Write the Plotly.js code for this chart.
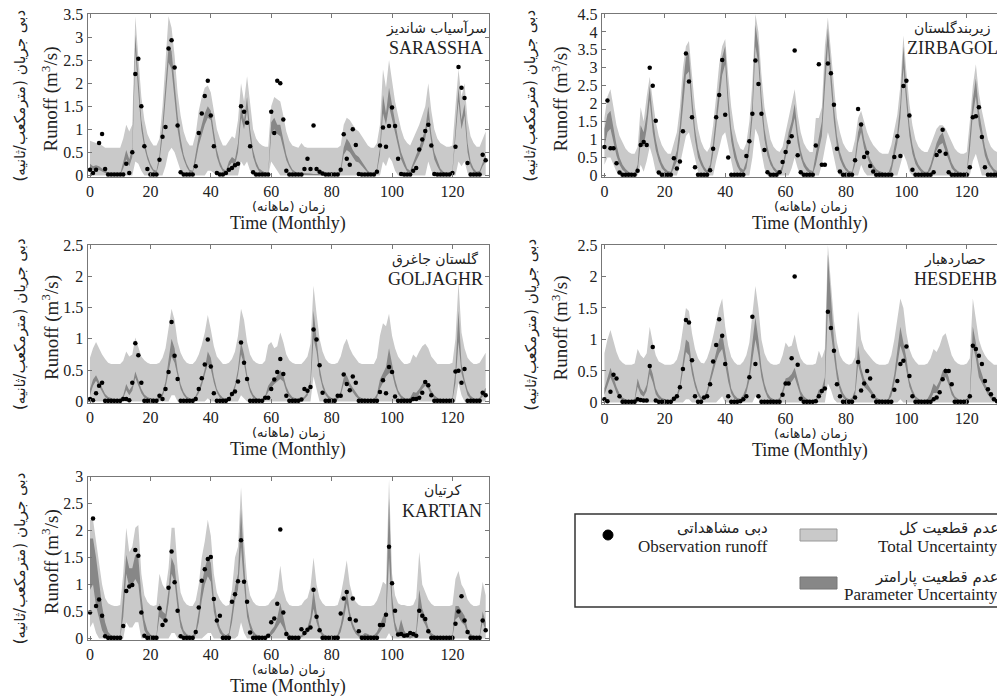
<!DOCTYPE html>
<html><head><meta charset="utf-8">
<script src="https://cdn.plot.ly/plotly-3.0.1.min.js"></script>
<style>html,body{margin:0;padding:0;background:#fff}#chart{width:997px;height:696px}</style>
</head><body><div id="chart"></div>
<script>
const months = [0,1,2,3,4,5,6,7,8,9,10,11,12,13,14,15,16,17,18,19,20,21,22,23,24,25,26,27,28,29,30,31,32,33,34,35,36,37,38,39,40,41,42,43,44,45,46,47,48,49,50,51,52,53,54,55,56,57,58,59,60,61,62,63,64,65,66,67,68,69,70,71,72,73,74,75,76,77,78,79,80,81,82,83,84,85,86,87,88,89,90,91,92,93,94,95,96,97,98,99,100,101,102,103,104,105,106,107,108,109,110,111,112,113,114,115,116,117,118,119,120,121,122,123,124,125,126,127,128,129,130,131];

const xTickVals = [0,20,40,60,80,100,120];
const stationFa = ["سرآسیاب شاندیز","زیربندگلستان","گلستان جاغرق","حصاردهبار","کرتیان"];
const stationEn = ["SARASSHA","ZIRBAGOL","GOLJAGHR","HESDEHB","KARTIAN"];
const yMax = [3.5,4.5,2.5,2.5,3];

// ---- SARASSHA ----
const sarObs = [0.12,0.05,0.12,0.7,0.9,0.14,0.02,0.02,0.02,0.02,
0.02,0.02,0.25,0.05,0.5,2.2,2.53,1.5,0.63,0.14,
0.02,0.02,0.02,0.34,0.84,1.05,2.75,2.93,2.34,1.08,
0.07,0.02,0.02,0.02,0.02,0.2,0.92,1.34,1.72,2.05,
1.3,0.63,0.05,0.02,0.02,0.05,0.12,0.16,0.22,0.25,
1.5,1.38,1.14,0.63,0.07,0.02,0.02,0.02,0.02,0.02,
1.38,0.92,2.05,2.0,1.21,0.1,0.02,0.02,0.02,0.02,
0.02,0.14,0.36,0.14,1.08,0.14,0.08,0.04,0.02,0.02,
0.02,0.02,0.02,0.12,0.89,0.36,0.23,1.0,0.66,0.03,
0.02,0.02,0.02,0.02,0.02,0.08,0.65,1.04,0.62,1.07,
1.47,1.07,0.36,0.03,0.02,0.02,0.02,0.1,0.16,0.56,
0.78,0.96,1.1,0.65,0.03,0.02,0.02,0.02,0.02,0.02,
0.05,0.62,2.35,1.9,1.68,0.27,0.02,0.02,0.02,0.02,0.45,0.33];
const sarTotHi = [0.75,0.72,0.7,0.68,0.65,0.6,0.6,0.6,0.6,0.6,
0.6,0.8,1.1,0.95,1.1,3.45,2.6,1.7,1.2,0.9,
0.75,0.65,0.65,0.8,1.5,2.5,3.45,3.2,2.6,1.8,
1.3,0.95,0.75,0.65,0.65,0.9,1.4,1.7,1.9,1.95,
1.8,1.4,1.0,0.8,0.65,0.65,0.75,0.85,0.8,1.2,
2.0,1.6,2.15,1.5,1.0,0.8,0.7,0.65,0.62,0.62,
1.5,1.7,1.65,1.6,1.3,0.95,0.75,0.65,0.62,0.6,
0.7,0.62,0.6,0.6,0.6,0.6,0.6,0.6,0.6,0.6,
0.6,0.6,0.6,0.65,1.1,1.25,1.2,1.1,1.0,0.95,
0.85,0.75,0.65,0.6,0.6,0.7,1.1,2.3,1.9,2.5,
2.0,1.6,1.3,1.0,0.8,0.7,0.65,0.8,0.95,1.1,
1.3,1.5,2.0,1.4,1.0,0.8,0.7,0.65,0.62,0.62,
0.65,1.5,2.3,1.7,2.0,1.2,0.85,0.7,0.62,0.62,0.8,0.95];
const sarTotLo = [0,0,0,0,0,0,0,0,0,0,
0,0,0,0,0,0.3,0.25,0.1,0,0,
0,0,0,0,0,0.2,0.5,0.6,0.5,0.3,
0.1,0,0,0,0,0,0,0,0,0.1,
0.1,0.05,0,0,0,0,0,0,0,0,
0.3,0.2,0.3,0.1,0,0,0,0,0,0,
0.3,0.2,0.1,0,0,0,0,0,0,0,
0,0,0,0,0,0,0,0,0,0,
0,0,0,0,0,0,0,0,0,0,
0,0,0,0,0,0,0,0.3,0.2,0.4,
0.3,0.1,0,0,0,0,0,0,0,0,
0,0,0.3,0.1,0,0,0,0,0,0,
0,0,0.3,0.2,0.3,0.05,0,0,0,0,0,0];
const sarParHi = [0.25,0.2,0.22,0.2,0.15,0.1,0.06,0.04,0.03,0.02,
0.03,0.3,0.55,0.35,0.6,3.05,2.1,1.2,0.75,0.45,
0.25,0.13,0.1,0.45,1.1,1.9,2.8,2.7,2.0,1.3,
0.8,0.45,0.25,0.12,0.1,0.45,0.85,1.1,1.35,1.5,
1.4,0.95,0.55,0.3,0.15,0.1,0.3,0.4,0.35,0.7,
1.5,1.2,1.7,1.0,0.55,0.3,0.15,0.1,0.06,0.05,
1.15,1.25,1.1,1.1,0.8,0.45,0.25,0.13,0.08,0.05,
0.05,0.05,0.04,0.04,0.03,0.03,0.03,0.03,0.03,0.03,
0.03,0.03,0.03,0.15,0.6,0.8,0.7,0.55,0.45,0.4,
0.3,0.2,0.1,0.05,0.05,0.15,0.6,1.75,1.35,1.9,
1.5,1.1,0.8,0.5,0.3,0.15,0.1,0.3,0.45,0.6,
0.8,1.0,1.5,0.9,0.5,0.3,0.15,0.08,0.05,0.05,
0.1,1.0,1.9,1.2,1.55,0.7,0.3,0.15,0.08,0.1,0.3,0.45];
const sarParLo = [0.15,0.12,0.15,0.12,0.08,0.05,0.02,0.01,0,0,
0,0.15,0.35,0.2,0.4,2.7,1.8,1.0,0.6,0.35,
0.18,0.08,0.05,0.3,0.85,1.6,2.45,2.3,1.6,1.0,
0.6,0.35,0.18,0.07,0.05,0.3,0.65,0.9,1.1,1.25,
1.2,0.75,0.4,0.2,0.08,0.05,0.2,0.28,0.22,0.5,
1.25,1.0,1.4,0.8,0.4,0.2,0.08,0.04,0.02,0.02,
0.9,1.0,0.9,0.85,0.6,0.33,0.18,0.08,0.04,0.01,
0.01,0.01,0,0,0,0,0,0,0,0,
0,0,0,0.05,0.45,0.55,0.5,0.4,0.3,0.28,
0.2,0.12,0.05,0.02,0.02,0.08,0.45,1.35,1.1,1.5,
1.2,0.9,0.6,0.35,0.2,0.08,0.05,0.2,0.32,0.45,
0.6,0.8,1.2,0.7,0.35,0.2,0.08,0.03,0.02,0.02,
0.05,0.8,1.6,1.0,1.3,0.5,0.2,0.08,0.03,0.04,0.2,0.3];

// ---- ZIRBAGOL ----
const zirObs = [0.79,2.09,0.76,0.76,0.34,0.08,0.02,0.02,0.02,0.02,
0.02,0.13,0.85,0.93,0.85,3.0,2.5,1.52,0.08,0.02,
0.02,0.02,0.02,0.48,0.19,0.39,1.23,3.4,2.62,1.62,
0.23,0.02,0.02,0.02,0.02,0.14,0.74,1.62,2.24,3.22,
1.69,0.5,0.02,0.02,0.02,0.02,0.02,0.54,0.95,1.72,
3.2,2.55,1.72,0.71,0.09,0.02,0.02,0.02,0.09,0.37,
0.65,0.93,1.09,3.48,0.56,0.09,0.02,0.02,0.02,0.02,
0.83,3.1,0.3,0.3,3.12,2.85,1.97,0.74,0.11,0.02,
0.02,0.02,0.02,0.42,1.85,1.42,0.51,0.63,0.26,0.11,
0.02,0.02,0.02,0.02,0.02,0.02,0.51,1.09,0.54,2.49,
2.64,1.67,0.16,0.02,0.02,0.02,0.02,0.02,0.02,0.09,
0.57,0.67,1.27,0.6,0.09,0.02,0.02,0.02,0.02,0.02,
0.02,0.23,1.62,1.65,1.9,1.07,0.23,0.02,0.02,0.02,0.02,0.02];
const zirTotHi = [1.6,2.2,2.4,1.9,1.4,1.1,0.9,0.75,0.65,0.6,
0.6,0.8,1.9,1.5,2.2,2.75,2.1,1.5,1.1,0.85,
0.7,0.6,0.6,0.9,1.2,1.9,3.0,3.6,3.75,2.8,
1.9,1.3,0.95,0.75,0.65,0.8,1.4,2.2,3.1,3.6,
3.8,2.8,1.9,1.3,0.95,0.75,0.7,0.9,1.5,2.6,
4.5,4.0,2.8,1.9,1.4,1.0,0.8,0.7,0.65,0.8,
1.2,1.6,1.9,2.4,1.7,1.2,0.9,0.75,0.65,0.65,
1.6,1.6,1.9,3.6,4.4,3.4,2.4,1.6,1.2,0.9,
0.75,0.65,0.65,1.0,1.6,1.8,1.5,1.2,1.0,0.85,
0.75,0.65,0.6,0.6,0.6,0.85,1.3,1.7,2.5,3.9,
2.9,2.0,1.4,1.0,0.8,0.7,0.65,0.65,0.85,1.1,
1.3,1.4,1.4,1.3,1.1,0.9,0.75,0.65,0.6,0.6,
0.65,1.5,2.5,3.1,2.3,1.8,1.4,1.0,0.8,0.7,0.65,0.65];
const zirTotLo = [0.3,0.5,0.5,0.3,0.1,0,0,0,0,0,
0,0,0.3,0.1,0.4,0.8,0.5,0.1,0,0,
0,0,0,0,0,0.3,0.7,1.1,1.2,0.8,
0.4,0.1,0,0,0,0,0,0.4,0.8,1.1,
1.2,0.8,0.3,0,0,0,0,0,0,0.5,
1.3,1.1,0.6,0.2,0,0,0,0,0,0,
0,0,0.2,0.5,0.2,0,0,0,0,0,
0,0,0.3,0.8,1.2,0.9,0.5,0.1,0,0,
0,0,0,0,0,0.3,0.1,0,0,0,
0,0,0,0,0,0,0,0,0.3,0.6,
0.4,0.1,0,0,0,0,0,0,0,0,
0,0,0,0,0,0,0,0,0,0,
0,0,0.4,0.6,0.3,0,0,0,0,0,0,0];
const zirParHi = [1.3,1.7,1.8,1.3,0.85,0.5,0.3,0.18,0.1,0.07,
0.06,0.3,1.4,1.2,1.7,2.5,1.6,1.0,0.6,0.35,
0.2,0.12,0.1,0.4,0.7,1.4,2.5,3.3,3.4,2.2,
1.3,0.75,0.45,0.25,0.13,0.3,0.9,1.7,2.6,3.3,
3.6,2.2,1.3,0.8,0.45,0.22,0.15,0.4,1.0,2.0,
4.2,3.6,2.2,1.3,0.8,0.45,0.25,0.15,0.1,0.3,
0.7,1.2,1.5,2.0,1.2,0.7,0.4,0.25,0.15,0.12,
0.6,1.1,1.5,3.0,4.1,3.0,1.9,1.1,0.65,0.4,
0.22,0.12,0.1,0.5,1.2,1.5,1.0,0.7,0.45,0.3,
0.18,0.12,0.08,0.06,0.05,0.3,0.8,1.2,2.0,3.6,
2.4,1.4,0.85,0.5,0.3,0.18,0.1,0.1,0.3,0.6,
0.9,1.1,1.2,0.9,0.6,0.35,0.2,0.12,0.08,0.06,
0.1,1.0,2.1,2.7,1.8,1.3,0.8,0.5,0.3,0.18,0.12,0.1];
const zirParLo = [0.8,1.2,1.3,0.9,0.55,0.3,0.15,0.08,0.03,0.01,
0.01,0.1,0.9,0.8,1.3,2.1,1.2,0.7,0.4,0.2,
0.1,0.05,0.03,0.2,0.4,1.0,2.0,2.8,2.9,1.8,
1.0,0.5,0.28,0.13,0.05,0.12,0.6,1.3,2.1,2.8,
3.1,1.8,0.95,0.5,0.25,0.1,0.06,0.2,0.7,1.6,
3.6,3.1,1.8,1.0,0.55,0.3,0.15,0.06,0.03,0.15,
0.5,0.9,1.2,1.6,0.9,0.5,0.25,0.12,0.06,0.03,
0.3,0.7,1.1,2.4,3.6,2.5,1.5,0.8,0.45,0.25,
0.12,0.05,0.03,0.3,0.9,1.2,0.75,0.5,0.3,0.18,
0.1,0.05,0.02,0.01,0.01,0.1,0.5,0.9,1.6,3.0,
2.0,1.1,0.6,0.32,0.18,0.08,0.04,0.03,0.15,0.4,
0.7,0.85,0.9,0.65,0.4,0.2,0.1,0.05,0.02,0.01,
0.03,0.7,1.7,2.2,1.4,1.0,0.55,0.32,0.18,0.08,0.04,0.03];

// ---- GOLJAGHR ----
const golObs = [0.04,0.02,0.13,0.25,0.3,0.01,0.01,0.01,0.01,0.01,
0.01,0.04,0.04,0.02,0.3,0.93,0.74,0.3,0.01,0.01,
0.01,0.01,0.01,0.09,0.04,0.2,0.47,1.27,0.73,0.36,
0.01,0.01,0.01,0.01,0.01,0.04,0.2,0.37,0.59,0.99,
0.56,0.13,0.01,0.01,0.01,0.01,0.04,0.12,0.16,0.32,
0.94,0.62,0.36,0.01,0.01,0.01,0.01,0.01,0.06,0.06,
0.2,0.35,0.47,0.68,0.44,0.09,0.01,0.01,0.01,0.01,
0.03,0.2,0.17,0.23,1.15,0.99,0.58,0.14,0.01,0.01,
0.01,0.01,0.09,0.09,0.43,0.28,0.18,0.4,0.3,0.01,
0.01,0.01,0.01,0.01,0.01,0.01,0.15,0.34,0.13,0.55,
0.47,0.08,0.01,0.01,0.01,0.01,0.01,0.04,0.04,0.06,
0.14,0.31,0.26,0.1,0.01,0.01,0.01,0.01,0.01,0.01,
0.01,0.48,0.49,0.3,0.52,0.01,0.01,0.01,0.01,0.01,0.14,0.1];
const golTotHi = [0.7,0.85,0.95,0.85,0.75,0.68,0.62,0.6,0.6,0.6,
0.6,0.65,0.8,0.72,0.75,1.02,0.85,0.72,0.66,0.62,
0.6,0.6,0.6,0.62,0.7,0.85,1.2,1.48,1.3,0.95,
0.78,0.68,0.62,0.6,0.6,0.65,0.75,0.9,1.1,1.38,
1.15,0.88,0.72,0.65,0.6,0.6,0.62,0.68,0.8,1.05,
1.48,1.3,0.95,0.75,0.66,0.62,0.6,0.6,0.65,0.9,
0.95,0.85,0.88,1.1,0.95,0.75,0.66,0.62,0.6,0.6,
0.6,0.65,0.72,0.92,1.85,1.4,1.0,0.8,0.68,0.62,
0.6,0.6,0.62,0.72,0.9,1.0,0.85,0.75,0.68,0.62,
0.6,0.6,0.6,0.6,0.6,0.7,1.05,1.25,1.2,1.4,
1.05,0.85,0.72,0.65,0.6,0.6,0.62,0.75,0.7,0.8,
0.88,0.92,0.85,0.72,0.65,0.6,0.6,0.6,0.6,0.6,
0.62,1.0,1.9,1.1,0.85,0.7,0.64,0.6,0.6,0.62,0.7,0.78];
const golTotLo = [0,0,0,0,0,0,0,0,0,0,
0,0,0,0,0,0,0,0,0,0,
0,0,0,0,0,0,0,0.1,0.1,0,
0,0,0,0,0,0,0,0,0,0.05,
0,0,0,0,0,0,0,0,0,0,
0.1,0.05,0,0,0,0,0,0,0,0,
0,0,0,0,0,0,0,0,0,0,
0,0,0,0,0.4,0.2,0,0,0,0,
0,0,0,0,0,0,0,0,0,0,
0,0,0,0,0,0,0,0,0,0,
0,0,0,0,0,0,0,0,0,0,
0,0,0,0,0,0,0,0,0,0,
0,0,0.3,0.1,0,0,0,0,0,0,0,0];
const golParHi = [0.2,0.35,0.42,0.32,0.2,0.12,0.07,0.05,0.04,0.03,
0.04,0.1,0.28,0.18,0.25,0.48,0.33,0.2,0.11,0.07,
0.05,0.04,0.04,0.07,0.14,0.32,0.7,1.0,0.85,0.5,
0.28,0.15,0.08,0.05,0.04,0.09,0.2,0.33,0.52,0.8,
0.7,0.4,0.2,0.11,0.06,0.05,0.07,0.13,0.27,0.52,
0.95,0.75,0.43,0.22,0.11,0.06,0.04,0.04,0.09,0.25,
0.32,0.36,0.42,0.5,0.42,0.24,0.13,0.07,0.05,0.04,
0.04,0.08,0.15,0.35,1.45,1.0,0.55,0.3,0.16,0.09,
0.05,0.05,0.07,0.16,0.38,0.42,0.3,0.22,0.14,0.08,
0.05,0.04,0.03,0.03,0.04,0.12,0.35,0.45,0.55,0.85,
0.6,0.35,0.18,0.1,0.06,0.04,0.06,0.15,0.14,0.2,
0.28,0.33,0.28,0.17,0.1,0.06,0.04,0.03,0.03,0.03,
0.06,0.5,1.45,0.6,0.35,0.18,0.09,0.05,0.04,0.06,0.15,0.22];
const golParLo = [0.1,0.25,0.33,0.24,0.14,0.07,0.03,0.01,0,0,
0,0.05,0.18,0.1,0.17,0.38,0.25,0.13,0.06,0.03,
0.01,0,0,0.03,0.08,0.22,0.5,0.72,0.62,0.38,
0.2,0.1,0.04,0.02,0.01,0.05,0.13,0.25,0.42,0.6,
0.52,0.3,0.14,0.06,0.02,0.01,0.03,0.08,0.2,0.42,
0.75,0.6,0.33,0.15,0.06,0.02,0.01,0.01,0.05,0.15,
0.22,0.28,0.32,0.36,0.32,0.16,0.07,0.03,0.01,0,
0.01,0.04,0.09,0.25,1.0,0.8,0.42,0.22,0.1,0.04,
0.02,0.01,0.03,0.09,0.28,0.32,0.22,0.15,0.08,0.04,
0.01,0,0,0,0.01,0.06,0.2,0.3,0.4,0.45,
0.45,0.25,0.12,0.05,0.02,0.01,0.02,0.05,0.06,0.12,
0.2,0.25,0.2,0.1,0.05,0.02,0.01,0,0,0,
0.02,0.3,0.95,0.45,0.25,0.1,0.04,0.01,0,0.02,0.08,0.14];

// ---- HESDEHB ----
const hesObs = [0.05,0.02,0.17,0.44,0.38,0.1,0.01,0.01,0.01,0.01,
0.01,0.05,0.04,0.03,0.03,0.58,0.88,0.03,0.01,0.01,
0.01,0.01,0.01,0.06,0.1,0.24,0.53,1.31,1.27,0.67,
0.1,0.01,0.01,0.08,0.1,0.29,0.65,0.91,1.32,1.06,
0.61,0.1,0.01,0.01,0.01,0.02,0.05,0.1,0.4,1.36,
0.61,0.1,0.01,0.01,0.01,0.01,0.01,0.01,0.01,0.12,
0.3,0.3,0.7,2.0,0.6,0.06,0.01,0.01,0.01,0.01,
0.02,0.1,0.18,0.22,1.44,1.18,0.82,0.29,0.1,0.01,
0.01,0.01,0.01,0.08,0.64,0.19,0.3,0.5,0.38,0.1,
0.01,0.01,0.01,0.01,0.01,0.01,0.2,0.34,0.61,0.66,
0.89,0.42,0.1,0.01,0.01,0.01,0.01,0.01,0.01,0.05,
0.08,0.16,0.37,0.5,0.5,0.29,0.01,0.01,0.01,0.01,
0.01,0.1,0.9,0.85,0.74,0.61,0.34,0.21,0.13,0.05,0.02,0.02];
const hesTotHi = [0.78,1.0,1.15,0.95,0.8,0.68,0.63,0.6,0.6,0.6,
0.62,0.85,0.75,0.7,0.78,1.2,0.95,0.75,0.65,0.62,
0.6,0.6,0.6,0.62,0.68,0.85,1.2,1.5,1.45,1.1,
0.85,0.7,0.63,0.62,0.7,0.85,1.05,1.3,1.5,1.65,
1.2,0.9,0.72,0.64,0.6,0.6,0.65,0.75,0.95,1.4,
1.85,1.5,1.0,0.78,0.67,0.62,0.6,0.6,0.62,0.75,
0.95,0.88,0.9,1.08,0.85,0.7,0.63,0.6,0.6,0.6,
0.62,0.82,0.7,0.85,2.5,1.95,1.3,0.95,0.75,0.66,
0.62,0.6,0.62,0.72,1.45,1.0,0.85,0.78,0.72,0.66,
0.62,0.6,0.6,0.6,0.62,0.75,1.0,1.3,1.65,1.5,
1.1,0.85,0.72,0.65,0.6,0.6,0.6,0.62,0.7,0.85,
0.8,0.9,1.05,1.1,0.9,0.75,0.66,0.62,0.6,0.6,
0.62,0.7,1.65,1.35,1.0,0.85,0.75,0.68,0.64,0.6,0.6,0.6];
const hesTotLo = [0,0,0,0,0,0,0,0,0,0,
0,0,0,0,0,0,0,0,0,0,
0,0,0,0,0,0,0,0.05,0.05,0,
0,0,0,0,0,0,0,0,0.05,0.1,
0,0,0,0,0,0,0,0,0,0,
0.1,0.05,0,0,0,0,0,0,0,0,
0,0,0,0,0,0,0,0,0,0,
0,0,0,0,0.3,0.2,0.05,0,0,0,
0,0,0,0,0,0,0,0,0,0,
0,0,0,0,0,0,0,0,0.05,0,
0,0,0,0,0,0,0,0,0,0,
0,0,0,0,0,0,0,0,0,0,
0,0,0,0,0,0,0,0,0,0,0,0];
const hesParHi = [0.22,0.4,0.55,0.4,0.25,0.14,0.08,0.05,0.03,0.03,
0.06,0.38,0.22,0.16,0.28,0.6,0.45,0.22,0.12,0.07,
0.05,0.04,0.04,0.06,0.12,0.3,0.65,1.0,0.95,0.6,
0.35,0.18,0.09,0.08,0.2,0.4,0.6,0.85,1.0,1.1,
0.8,0.45,0.22,0.12,0.07,0.06,0.12,0.25,0.5,0.95,
1.35,1.0,0.55,0.3,0.15,0.08,0.05,0.04,0.07,0.2,
0.38,0.4,0.45,0.55,0.35,0.18,0.1,0.06,0.04,0.04,
0.06,0.2,0.22,0.4,2.35,1.6,1.0,0.55,0.28,0.15,
0.08,0.05,0.07,0.2,0.9,0.55,0.38,0.3,0.22,0.14,
0.08,0.05,0.04,0.04,0.06,0.2,0.45,0.8,1.2,0.95,
0.7,0.35,0.2,0.1,0.06,0.04,0.04,0.06,0.15,0.3,
0.25,0.35,0.5,0.55,0.4,0.2,0.1,0.06,0.04,0.04,
0.06,0.15,1.2,0.95,0.6,0.45,0.3,0.2,0.12,0.07,0.05,0.04];
const hesParLo = [0.12,0.25,0.4,0.28,0.15,0.07,0.03,0.01,0,0,
0.02,0.25,0.13,0.09,0.18,0.45,0.32,0.13,0.06,0.03,
0.01,0,0,0.02,0.06,0.2,0.5,0.8,0.75,0.45,
0.25,0.11,0.04,0.04,0.12,0.3,0.45,0.65,0.78,0.85,
0.6,0.33,0.14,0.06,0.03,0.02,0.06,0.15,0.35,0.72,
1.0,0.75,0.4,0.2,0.08,0.03,0.01,0,0.03,0.12,
0.28,0.3,0.33,0.4,0.25,0.1,0.04,0.02,0,0,
0.02,0.1,0.12,0.25,1.5,1.1,0.7,0.38,0.18,0.08,
0.03,0.01,0.03,0.1,0.6,0.4,0.25,0.2,0.14,0.08,
0.03,0.01,0,0,0.02,0.1,0.3,0.6,0.9,0.75,
0.5,0.25,0.12,0.05,0.02,0,0,0.02,0.05,0.15,
0.15,0.25,0.38,0.4,0.28,0.12,0.05,0.02,0,0,
0.02,0.05,0.9,0.7,0.4,0.3,0.2,0.12,0.06,0.03,0.01,0];

// ---- KARTIAN ----
const karObs = [0.48,2.22,0.6,0.72,0.42,0.04,0.01,0.01,0.01,0.01,
0.01,0.23,0.88,0.96,0.99,1.64,1.53,0.48,0.05,0.01,
0.01,0.01,0.01,0.56,0.25,0.33,0.94,1.61,1.04,0.51,
0.04,0.01,0.01,0.01,0.01,0.12,0.57,1.07,1.28,1.47,
1.51,0.73,0.33,0.42,0.01,0.01,0.01,0.68,0.82,1.06,
1.82,1.05,0.68,0.11,0.01,0.01,0.01,0.01,0.01,0.05,
0.3,0.37,0.64,2.02,0.48,0.08,0.01,0.01,0.01,0.01,
0.17,0.1,0.16,0.2,0.9,0.4,0.15,0.01,0.01,0.01,
0.01,0.01,0.01,0.46,0.74,0.86,0.36,0.74,0.33,0.13,
0.01,0.01,0.01,0.01,0.01,0.01,0.25,0.25,0.44,1.7,
1.02,0.51,0.07,0.08,0.05,0.06,0.1,0.08,0.05,0.51,
0.42,0.36,0.13,0.01,0.01,0.01,0.01,0.01,0.01,0.01,
0.01,0.27,0.5,0.78,0.33,0.12,0.01,0.01,0.01,0.01,0.33,0.15];
const karTotHi = [2.2,2.2,1.8,1.4,1.0,0.75,0.65,0.62,0.6,0.6,
0.62,1.2,2.05,1.6,1.7,2.05,2.1,1.2,0.8,0.68,
0.62,0.6,0.62,1.2,1.0,0.9,1.3,2.05,2.05,1.3,
0.85,0.7,0.63,0.6,0.6,0.7,1.0,1.5,1.8,2.2,
1.9,1.2,0.85,0.72,0.64,0.6,0.62,0.9,1.5,1.7,
2.8,1.8,1.1,0.8,0.68,0.62,0.6,0.6,0.6,0.62,
0.7,0.75,0.9,1.35,0.9,0.7,0.62,0.6,0.6,0.6,
0.62,0.7,0.75,0.95,1.5,1.0,0.75,0.65,0.6,0.6,
0.6,0.6,0.62,0.8,1.1,1.45,1.0,0.78,0.68,0.62,
0.6,0.6,0.6,0.6,0.62,0.7,0.85,1.05,1.0,2.95,
1.2,0.8,0.65,0.62,0.62,0.6,0.6,0.62,0.75,1.6,
1.0,0.85,0.72,0.64,0.6,0.6,0.6,0.6,0.6,0.6,
0.62,1.1,1.25,1.0,0.9,0.72,0.64,0.6,0.6,0.62,1.05,0.8];
const karTotLo = [0.2,0.3,0.1,0,0,0,0,0,0,0,
0,0,0.3,0.2,0.2,0.3,0.3,0,0,0,
0,0,0,0,0,0,0,0.1,0.1,0,
0,0,0,0,0,0,0,0,0.05,0.1,
0.1,0,0,0,0,0,0,0,0,0.05,
0.3,0.1,0,0,0,0,0,0,0,0,
0,0,0,0,0,0,0,0,0,0,
0,0,0,0,0,0,0,0,0,0,
0,0,0,0,0,0,0,0,0,0,
0,0,0,0,0,0,0,0,0,0.1,
0,0,0,0,0,0,0,0,0,0,
0,0,0,0,0,0,0,0,0,0,
0,0,0,0,0,0,0,0,0,0,0,0];
const karParHi = [1.85,1.85,1.5,1.0,0.6,0.3,0.12,0.06,0.04,0.03,
0.06,0.8,1.55,1.3,1.3,1.55,1.5,0.8,0.35,0.15,
0.07,0.05,0.06,0.65,0.5,0.45,0.9,1.5,1.35,0.8,
0.35,0.15,0.08,0.05,0.05,0.15,0.5,1.0,1.3,1.5,
1.4,0.75,0.4,0.2,0.1,0.06,0.1,0.5,0.95,1.2,
2.4,1.4,0.6,0.3,0.14,0.07,0.05,0.04,0.04,0.06,
0.15,0.22,0.38,0.65,0.4,0.15,0.07,0.04,0.04,0.04,
0.06,0.13,0.2,0.4,0.9,0.5,0.22,0.1,0.05,0.04,
0.04,0.04,0.07,0.25,0.55,0.9,0.5,0.28,0.15,0.08,
0.05,0.1,0.08,0.05,0.06,0.12,0.25,0.4,0.5,2.6,
0.8,0.3,0.12,0.35,0.15,0.06,0.05,0.06,0.15,0.9,
0.55,0.4,0.2,0.1,0.06,0.04,0.04,0.04,0.04,0.04,
0.06,0.6,0.6,0.5,0.42,0.18,0.08,0.05,0.04,0.06,0.5,0.3];
const karParLo = [0.9,1.0,0.6,0.35,0.15,0.05,0.02,0.01,0,0,
0.01,0.4,1.2,0.95,1.0,1.1,1.0,0.5,0.15,0.05,
0.02,0.01,0.01,0.4,0.35,0.3,0.65,1.2,1.05,0.55,
0.2,0.07,0.02,0.01,0.01,0.06,0.3,0.7,1.0,1.15,
1.05,0.5,0.25,0.1,0.04,0.01,0.03,0.3,0.7,0.9,
1.7,1.0,0.4,0.18,0.06,0.02,0.01,0,0,0.02,
0.06,0.12,0.2,0.3,0.2,0.07,0.02,0,0,0,
0.02,0.05,0.1,0.25,0.55,0.3,0.12,0.04,0.01,0,
0,0,0.02,0.12,0.35,0.65,0.35,0.18,0.08,0.03,
0.01,0,0,0,0.02,0.05,0.12,0.22,0.3,1.5,
0.5,0.15,0.04,0.05,0.02,0.01,0,0.02,0.05,0.55,
0.35,0.25,0.1,0.04,0.01,0,0,0,0,0,
0.02,0.35,0.4,0.3,0.25,0.08,0.03,0.01,0,0.02,0.3,0.15];

const W = 997, H = 696;
const LIGHT = '#c9c9c9', DARK = '#878787';
const SERIF = 'Liberation Serif, DejaVu Sans, serif';
const FA = 'DejaVu Sans, Liberation Serif, sans-serif';
const px = v => v / W;
const py = v => 1 - v / H;

const panels = [
  {obs:sarObs, th:sarTotHi, tl:sarTotLo, ph:sarParHi, pl:sarParLo, xa:'x',  ya:'y'},
  {obs:zirObs, th:zirTotHi, tl:zirTotLo, ph:zirParHi, pl:zirParLo, xa:'x2', ya:'y2'},
  {obs:golObs, th:golTotHi, tl:golTotLo, ph:golParHi, pl:golParLo, xa:'x3', ya:'y3'},
  {obs:hesObs, th:hesTotHi, tl:hesTotLo, ph:hesParHi, pl:hesParLo, xa:'x4', ya:'y4'},
  {obs:karObs, th:karTotHi, tl:karTotLo, ph:karParHi, pl:karParLo, xa:'x5', ya:'y5'}
];

const data = [];
panels.forEach(p => {
  const base = {x: months, xaxis: p.xa, yaxis: p.ya, mode: 'lines', hoverinfo: 'skip', showlegend: false, line: {width: 0, color: 'rgba(0,0,0,0)'}};
  data.push(Object.assign({}, base, {y: p.tl}));
  data.push(Object.assign({}, base, {y: p.th, fill: 'tonexty', fillcolor: LIGHT}));
  data.push(Object.assign({}, base, {y: p.pl}));
  data.push(Object.assign({}, base, {y: p.ph, fill: 'tonexty', fillcolor: DARK}));
  data.push({x: months, y: p.obs, xaxis: p.xa, yaxis: p.ya, mode: 'markers', hoverinfo: 'skip', showlegend: false,
    marker: {color: '#000', size: 4.5}});
});

// geometry of the five plotting frames (pixels); lx = centre of the station label
const frames = [
  {l:87.5, r:489, t:14, b:177, xr:[-0.83,132.1], right:false, lx:436},
  {l:601.7, r:997, t:14, b:177, xr:[-0.9,130], right:true, lx:952},
  {l:87.5, r:489, t:245, b:403, xr:[-0.83,132.1], right:false, lx:435},
  {l:601.7, r:997, t:245, b:404, xr:[-0.9,130], right:true, lx:955},
  {l:87.5, r:489, t:476.5, b:640, xr:[-0.83,132.1], right:false, lx:442}
];

const layout = {
  width: W, height: H, margin: {l:0, r:0, t:0, b:0},
  paper_bgcolor: '#fff', plot_bgcolor: 'rgba(0,0,0,0)',
  showlegend: false, annotations: [], shapes: []
};

frames.forEach((f, i) => {
  const k = i === 0 ? '' : String(i + 1);
  layout['xaxis' + k] = {
    domain: [px(f.l), px(f.r)], anchor: 'y' + k, range: f.xr,
    tickvals: xTickVals, ticks: 'inside', ticklen: 4, tickcolor: '#777',
    showline: true, linecolor: '#777', linewidth: 1, mirror: 'ticks',
    showgrid: false, zeroline: false,
    tickfont: {family: SERIF, size: 16, color: '#222'}
  };
  layout['yaxis' + k] = {
    domain: [py(f.b), py(f.t)], anchor: 'x' + k, range: [-0.03 * yMax[i] / 3, yMax[i]],
    dtick: 0.5, tick0: 0, ticks: 'inside', ticklen: 4, tickcolor: '#777',
    showline: true, linecolor: '#777', linewidth: 1, mirror: f.right ? false : 'ticks',
    showgrid: false, zeroline: false,
    tickfont: {family: SERIF, size: 16, color: '#222'}
  };

  const ann = (text, x, y, font, extra) => layout.annotations.push(Object.assign({
    text: text, xref: 'paper', yref: 'paper', x: px(x), y: py(y),
    xanchor: 'center', yanchor: 'middle', showarrow: false, font: font
  }, extra || {}));

  // station labels
  ann(stationFa[i], f.lx, f.t + 14, {family: FA, size: 14, color: '#222'});
  ann(stationEn[i], f.lx, f.t + 34, {family: SERIF, size: 18, color: '#222'});

  // y titles
  const yc = (f.t + f.b) / 2;
  const fx = f.right ? 530 : 20;
  const ex = f.right ? 560 : 50;
  ann('دبی جریان (مترمکعب/ثانیه)', fx, yc, {family: FA, size: 15, color: '#222'}, {textangle: -90});
  ann('Runoff (m<sup>3</sup>/s)', ex, yc + 4, {family: SERIF, size: 19, color: '#222'}, {textangle: -90});

  // x titles
  const xc = f.right ? 810 : 288;
  ann('زمان (ماهانه)', xc, f.b + 30, {family: FA, size: 13, color: '#222'});
  ann('Time (Monthly)', xc, f.b + 46.5, {family: SERIF, size: 18, color: '#222'});
});

// legend box
layout.shapes.push({type:'rect', xref:'paper', yref:'paper', x0:px(575), x1:px(1010), y0:py(607), y1:py(514),
  line:{color:'#333', width:1.5}, fillcolor:'rgba(0,0,0,0)'});
layout.shapes.push({type:'circle', xref:'paper', yref:'paper', x0:px(603), x1:px(613), y0:py(540), y1:py(530),
  line:{color:'#000', width:1}, fillcolor:'#000'});
layout.shapes.push({type:'rect', xref:'paper', yref:'paper', x0:px(800), x1:px(837), y0:py(541), y1:py(529),
  line:{color:'#999', width:1}, fillcolor:LIGHT});
layout.shapes.push({type:'rect', xref:'paper', yref:'paper', x0:px(800), x1:px(837), y0:py(589), y1:py(577),
  line:{color:'#777', width:1}, fillcolor:DARK});
const lg = (text, x, y, font) => layout.annotations.push({text:text, xref:'paper', yref:'paper', x:px(x), y:py(y),
  xanchor:'right', yanchor:'middle', showarrow:false, font:font});
lg('دبی مشاهداتی', 770, 528, {family: FA, size: 15, color: '#222'});
lg('Observation runoff', 770, 546, {family: SERIF, size: 17, color: '#222'});
lg('عدم قطعیت کل', 1001, 528, {family: FA, size: 15, color: '#222'});
lg('Total Uncertainty', 1000, 546, {family: SERIF, size: 17, color: '#222'});
lg('عدم قطعیت پارامتر', 1001, 577, {family: FA, size: 15, color: '#222'});
lg('Parameter Uncertainty', 1000, 594, {family: SERIF, size: 17, color: '#222'});

Plotly.newPlot('chart', data, layout, {displayModeBar: false, staticPlot: true});
</script></body></html>
